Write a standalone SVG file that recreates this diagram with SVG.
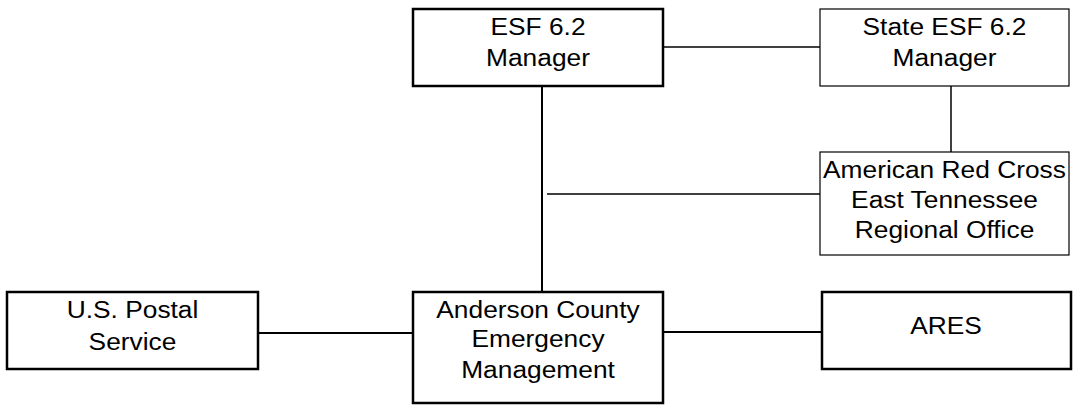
<svg xmlns="http://www.w3.org/2000/svg" width="1073" height="405" viewBox="0 0 1073 405">
<style>
.box{fill:#fff;stroke:#000}
.thick{stroke-width:2.5}
.thin{stroke-width:1.2}
.t{font-family:"Liberation Sans",Arial,sans-serif;font-size:23.3px;text-anchor:middle;fill:#000}
.c{stroke:#000;fill:none}
</style>
<rect width="1073" height="405" fill="#fff"/>
<g id="connectors">
<line class="c" x1="663" y1="47" x2="820" y2="47" stroke-width="1.5"/>
<line class="c" x1="951" y1="86" x2="951" y2="152" stroke-width="1.5"/>
<line class="c" x1="542" y1="86" x2="542" y2="292" stroke-width="2"/>
<line class="c" x1="547" y1="194" x2="820" y2="194" stroke-width="1.3"/>
<line class="c" x1="258" y1="333" x2="413" y2="333" stroke-width="2"/>
<line class="c" x1="663" y1="332" x2="822" y2="332" stroke-width="2"/>
</g>
<g id="esf">
<rect class="box thick" x="413" y="9" width="250" height="77"/>
<text class="t" transform="translate(538,35) scale(1.13,1)">ESF 6.2</text>
<text class="t" transform="translate(538,66) scale(1.13,1)">Manager</text>
</g>
<g id="state">
<rect class="box thin" x="820" y="9" width="249" height="77"/>
<text class="t" transform="translate(944.5,35) scale(1.13,1)">State ESF 6.2</text>
<text class="t" transform="translate(944.5,66) scale(1.13,1)">Manager</text>
</g>
<g id="arc">
<rect class="box thin" x="820" y="152" width="249" height="103"/>
<text class="t" transform="translate(944.5,178) scale(1.13,1)">American Red Cross</text>
<text class="t" transform="translate(944.5,208) scale(1.13,1)">East Tennessee</text>
<text class="t" transform="translate(944.5,238) scale(1.13,1)">Regional Office</text>
</g>
<g id="usps">
<rect class="box thick" x="7" y="292" width="251" height="77"/>
<text class="t" transform="translate(132.5,318) scale(1.13,1)">U.S. Postal</text>
<text class="t" transform="translate(132.5,350) scale(1.13,1)">Service</text>
</g>
<g id="anderson">
<rect class="box thick" x="413" y="292" width="250" height="111"/>
<text class="t" transform="translate(538,318) scale(1.13,1)">Anderson County</text>
<text class="t" transform="translate(538,347) scale(1.13,1)">Emergency</text>
<text class="t" transform="translate(538,378) scale(1.13,1)">Management</text>
</g>
<g id="ares">
<rect class="box thick" x="822" y="292" width="249" height="77"/>
<text class="t" transform="translate(946,334) scale(1.13,1)">ARES</text>
</g>
</svg>
